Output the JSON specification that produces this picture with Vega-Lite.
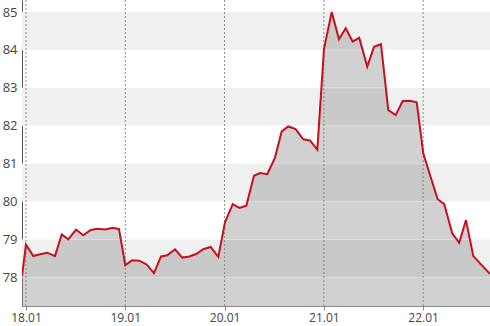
{
  "$schema": "https://vega.github.io/schema/vega-lite/v6.json",
  "width": 468,
  "height": 306,
  "autosize": {"type": "none"},
  "padding": {"left": 22, "top": 0, "right": 0, "bottom": 20},
  "background": "white",
  "config": {"view": {"stroke": null}, "font": "Open Sans"},
  "datasets": {
    "series": [
      {"t": 17.960, "v": 78.03}, {"t": 18.000, "v": 78.86}, {"t": 18.074, "v": 78.56}, {"t": 18.141, "v": 78.61},
      {"t": 18.215, "v": 78.65}, {"t": 18.292, "v": 78.56}, {"t": 18.360, "v": 79.13}, {"t": 18.426, "v": 79.0},
      {"t": 18.504, "v": 79.26}, {"t": 18.577, "v": 79.11}, {"t": 18.652, "v": 79.25}, {"t": 18.718, "v": 79.28},
      {"t": 18.796, "v": 79.26}, {"t": 18.873, "v": 79.31}, {"t": 18.937, "v": 79.27}, {"t": 19.000, "v": 78.32},
      {"t": 19.070, "v": 78.45}, {"t": 19.141, "v": 78.44}, {"t": 19.215, "v": 78.34}, {"t": 19.289, "v": 78.11},
      {"t": 19.360, "v": 78.55}, {"t": 19.423, "v": 78.58}, {"t": 19.501, "v": 78.74}, {"t": 19.574, "v": 78.52},
      {"t": 19.645, "v": 78.55}, {"t": 19.719, "v": 78.62}, {"t": 19.785, "v": 78.74}, {"t": 19.860, "v": 78.8},
      {"t": 19.937, "v": 78.54}, {"t": 20.004, "v": 79.45}, {"t": 20.082, "v": 79.93}, {"t": 20.150, "v": 79.83},
      {"t": 20.219, "v": 79.89}, {"t": 20.296, "v": 80.68}, {"t": 20.356, "v": 80.75}, {"t": 20.430, "v": 80.72},
      {"t": 20.508, "v": 81.16}, {"t": 20.575, "v": 81.85}, {"t": 20.641, "v": 81.98}, {"t": 20.716, "v": 81.91},
      {"t": 20.793, "v": 81.64}, {"t": 20.860, "v": 81.61}, {"t": 20.934, "v": 81.37}, {"t": 21.001, "v": 84.02},
      {"t": 21.079, "v": 85.0}, {"t": 21.152, "v": 84.28}, {"t": 21.220, "v": 84.57}, {"t": 21.290, "v": 84.22},
      {"t": 21.356, "v": 84.32}, {"t": 21.437, "v": 83.56}, {"t": 21.505, "v": 84.08}, {"t": 21.575, "v": 84.15},
      {"t": 21.649, "v": 82.41}, {"t": 21.723, "v": 82.28}, {"t": 21.794, "v": 82.65}, {"t": 21.867, "v": 82.66},
      {"t": 21.935, "v": 82.62}, {"t": 22.001, "v": 81.27}, {"t": 22.069, "v": 80.7}, {"t": 22.146, "v": 80.06},
      {"t": 22.212, "v": 79.93}, {"t": 22.293, "v": 79.16}, {"t": 22.363, "v": 78.91}, {"t": 22.431, "v": 79.51},
      {"t": 22.505, "v": 78.56}, {"t": 22.589, "v": 78.32}, {"t": 22.673, "v": 78.09}
    ],
    "bands": [
      {"lo": 84, "hi": 85}, {"lo": 82, "hi": 83}, {"lo": 80, "hi": 81}, {"lo": 78, "hi": 79}
    ],
    "levels": [{"y": 78}, {"y": 79}, {"y": 80}, {"y": 81}, {"y": 82}, {"y": 83}, {"y": 84}, {"y": 85}],
    "days": [{"d": 18}, {"d": 19}, {"d": 20}, {"d": 21}, {"d": 22}]
  },
  "layer": [
    {
      "data": {"name": "bands"},
      "mark": {"type": "rect", "fill": "#f0f0f0"},
      "encoding": {
        "y": {"field": "lo", "type": "quantitative", "scale": {"domain": [77.243, 85.317], "zero": false, "nice": false},
          "axis": {"values": [78, 79, 80, 81, 82, 83, 84, 85], "grid": false, "ticks": false, "domainColor": "#555", "domainWidth": 1,
            "labelColor": "#444", "labelFontSize": 13, "labelPadding": 5, "title": null}},
        "y2": {"field": "hi"}
      }
    },
    {
      "data": {"name": "series"},
      "mark": {"type": "area", "fill": "#999999", "opacity": 0.45, "clip": true},
      "encoding": {
        "x": {"field": "t", "type": "quantitative", "scale": {"domain": [17.96, 22.673], "nice": false, "zero": false},
          "axis": {"values": [18, 19, 20, 21, 22], "labelExpr": "datum.value + '.01'", "grid": false, "domainColor": "#888",
            "tickColor": "#888", "tickSize": 4, "labelColor": "#444", "labelFontSize": 12, "labelPadding": 2, "title": null}},
        "y": {"field": "v", "type": "quantitative"}
      }
    },
    {
      "data": {"name": "levels"},
      "mark": {"type": "rule", "stroke": "#ffffff", "strokeWidth": 1, "opacity": 0.35},
      "encoding": {"y": {"field": "y", "type": "quantitative"}}
    },
    {
      "data": {"name": "days"},
      "mark": {"type": "rule", "stroke": "#8c8c8c", "strokeWidth": 1, "strokeDash": [2, 2]},
      "encoding": {"x": {"field": "d", "type": "quantitative"}}
    },
    {
      "data": {"name": "series"},
      "mark": {"type": "line", "stroke": "#c4121c", "strokeWidth": 2, "clip": true},
      "encoding": {
        "x": {"field": "t", "type": "quantitative"},
        "y": {"field": "v", "type": "quantitative"}
      }
    }
  ]
}
